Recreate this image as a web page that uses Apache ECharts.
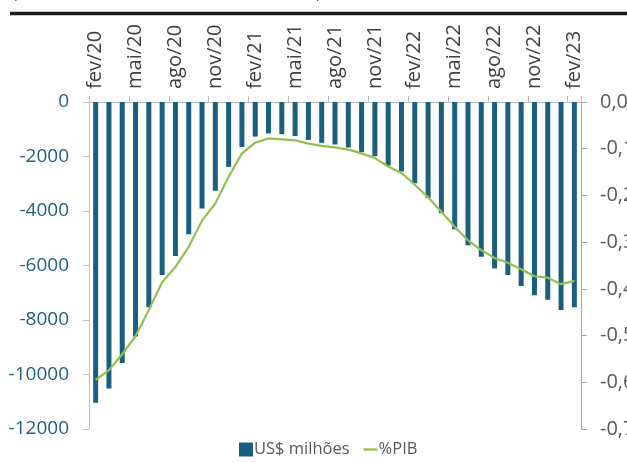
<!DOCTYPE html>
<html>
<head>
<meta charset="utf-8">
<script src="https://cdn.jsdelivr.net/npm/echarts@6/dist/echarts.min.js"></script>
<style>
  html, body { margin: 0; padding: 0; background: #ffffff; }
  #chart { width: 627px; height: 463px; }
</style>
</head>
<body>
<div id="chart"></div>
<script>
// Monthly categories, fev/20 to fev/23
const months = ['fev/20','mar/20','abr/20','mai/20','jun/20','jul/20','ago/20','set/20','out/20','nov/20','dez/20','jan/21',
  'fev/21','mar/21','abr/21','mai/21','jun/21','jul/21','ago/21','set/21','out/21','nov/21','dez/21','jan/22',
  'fev/22','mar/22','abr/22','mai/22','jun/22','jul/22','ago/22','set/22','out/22','nov/22','dez/22','jan/23','fev/23'];

// Accumulated balance, US$ millions
const usdMilhoes = [-11040, -10510, -9580, -8610, -7530, -6350, -5650, -4850, -3910, -3260, -2380, -1650,
  -1270, -1150, -1180, -1250, -1390, -1500, -1560, -1670, -1840, -1990, -2330, -2550,
  -2980, -3520, -4080, -4670, -5260, -5680, -6110, -6350, -6750, -7090, -7260, -7630, -7530];

// Same balance as % of GDP
const pctPib = [-0.595, -0.574, -0.540, -0.501, -0.445, -0.386, -0.353, -0.310, -0.254, -0.217, -0.160, -0.110,
  -0.087, -0.078, -0.080, -0.082, -0.089, -0.094, -0.097, -0.102, -0.110, -0.120, -0.138, -0.152,
  -0.177, -0.204, -0.235, -0.267, -0.296, -0.317, -0.334, -0.344, -0.358, -0.373, -0.376, -0.390, -0.383];

const leftTicks = { min: -12000, max: 0, step: 2000 };
const rightTicks = { min: -0.7, max: 0, step: 0.1 };

const FONT = 'Open Sans';
const BAR = '#1b5f7e';
const LINE = '#92bf50';

const chart = echarts.init(document.getElementById('chart'), null, { renderer: 'canvas' });

chart.setOption({
  animation: false,
  backgroundColor: '#ffffff',
  textStyle: { fontFamily: FONT },
  grid: { left: 89, right: 46, top: 102, bottom: 34, containLabel: false, outerBoundsMode: 'none' },
  graphic: [
    {
      // header caption, sitting mostly above the page edge
      type: 'text', x: 13, y: 1, silent: true,
      style: {
        text: '(US$ milhões, acumulado em 12 meses e %PIB)',
        font: '14px "Open Sans"', fill: '#404040',
        textVerticalAlign: 'bottom', verticalAlign: 'bottom'
      }
    },
    {
      type: 'line', silent: true,
      shape: { x1: 10, y1: 13.5, x2: 627, y2: 13.5 },
      style: { stroke: '#1e1e1e', lineWidth: 3.5 }
    }
  ],
  legend: {
    bottom: 0,
    left: 234,
    itemGap: 14,
    itemWidth: 14,
    itemHeight: 14,
    textStyle: { fontFamily: FONT, fontSize: 16.5, color: '#595959', padding: [0, 0, 0, -4] },
    data: [
      { name: 'US$ milhões', icon: 'rect' },
      { name: '%PIB', icon: 'path://M0,0 L12,0 L12,2 L0,2 Z', itemStyle: { color: LINE } }
    ]
  },
  xAxis: {
    type: 'category',
    position: 'top',
    data: months,
    boundaryGap: true,
    axisLine: { lineStyle: { color: '#bfbfbf', width: 1 } },
    axisTick: { show: true, interval: 2, length: 6, lineStyle: { color: '#bfbfbf' } },
    axisLabel: { interval: 2, rotate: 90, margin: 13, fontFamily: FONT, fontSize: 20, color: '#404040' },
    splitLine: { show: false }
  },
  yAxis: [
    {
      type: 'value',
      position: 'left',
      min: leftTicks.min, max: leftTicks.max, interval: leftTicks.step,
      axisLine: { show: true, lineStyle: { color: '#bfbfbf', width: 1 } },
      axisTick: { show: true, length: 6, lineStyle: { color: '#bfbfbf' } },
      axisLabel: { margin: 20, fontFamily: FONT, fontSize: 19, color: '#1f5f7f', formatter: v => String(v) },
      splitLine: { show: false }
    },
    {
      type: 'value',
      position: 'right',
      min: rightTicks.min, max: rightTicks.max, interval: rightTicks.step,
      axisLine: { show: true, lineStyle: { color: '#a6a6a6', width: 1 } },
      axisTick: { show: true, length: 6, lineStyle: { color: '#a6a6a6' } },
      axisLabel: {
        margin: 19, fontFamily: FONT, fontSize: 20, color: '#595959',
        formatter: v => v.toFixed(1).replace('.', ',')
      },
      splitLine: { show: false }
    }
  ],
  series: [
    {
      name: 'US$ milhões',
      type: 'bar',
      yAxisIndex: 0,
      data: usdMilhoes,
      barWidth: 5,
      itemStyle: { color: BAR }
    },
    {
      name: '%PIB',
      type: 'line',
      yAxisIndex: 1,
      data: pctPib,
      symbol: 'none',
      smooth: false,
      lineStyle: { color: LINE, width: 2.2 },
      itemStyle: { color: LINE },
      z: 3
    }
  ]
});
</script>
</body>
</html>
